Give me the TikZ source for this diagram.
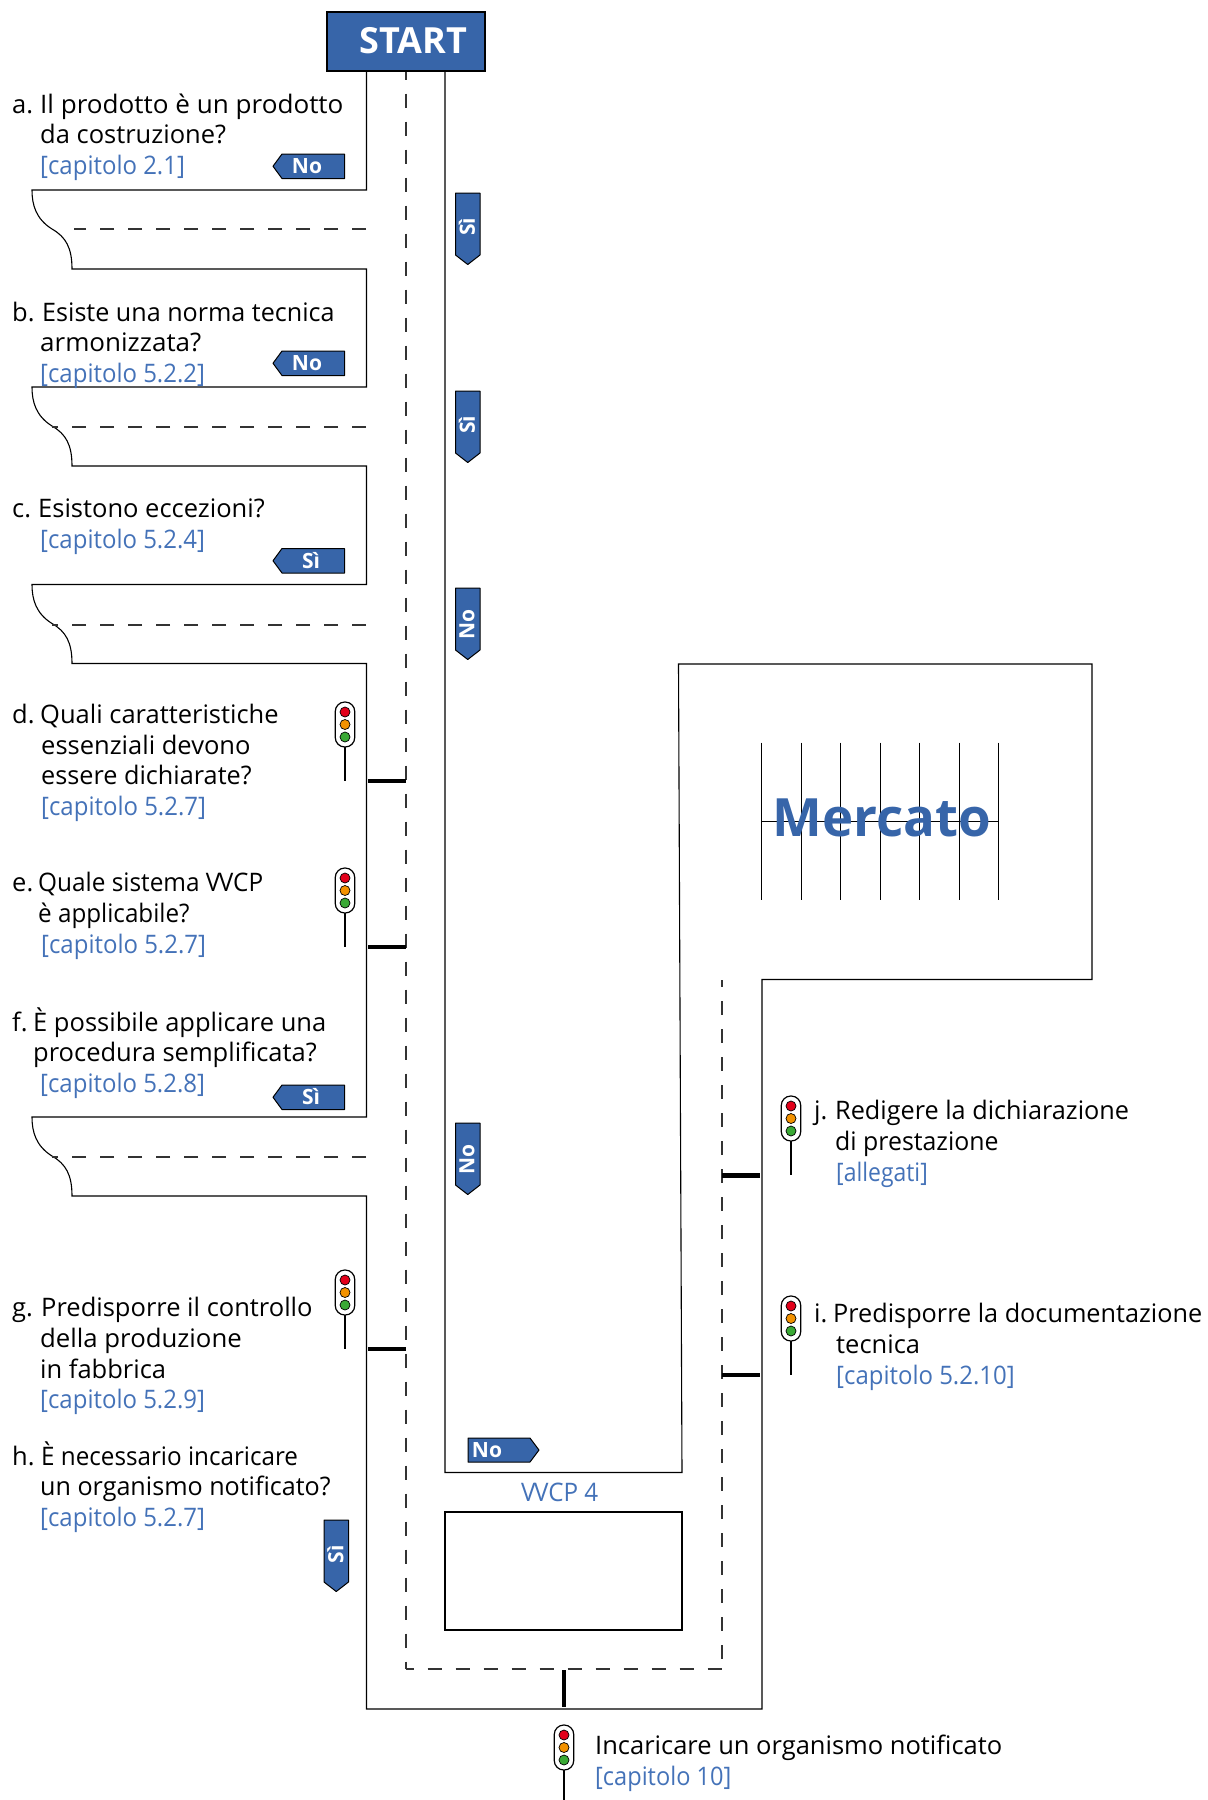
\documentclass[tikz,border=0pt]{standalone}
\usepackage{fontspec}
\setmainfont{Open Sans}
\definecolor{bluefill}{HTML}{3765A9}
\definecolor{linkblue}{HTML}{4472B8}
\definecolor{tred}{HTML}{E2001A}
\definecolor{torange}{HTML}{F39200}
\definecolor{tgreen}{HTML}{3AA935}
\newcommand{\lbfont}{\fontsize{25.5}{30}\selectfont}
\newcommand{\tagfont}{\fontsize{21}{24}\selectfont\bfseries}
\newcommand{\sx}[2]{\scalebox{#1}[1]{#2}}
\newcommand{\vv}{V\kern-1.6pt V}
\tikzset{
 x=1pt,y=-1pt,
 wall/.style={draw=black,line width=1.1pt,line join=miter},
 dashline/.style={draw=black!80,line width=1.1pt,dash pattern=on 14pt off 14pt},
 thick bar/.style={draw=black,line width=4.4pt},
 lbl/.style={anchor=base west,inner sep=0pt,font=\lbfont,text=black},
 lnk/.style={anchor=base west,inner sep=0pt,font=\lbfont,text=linkblue},
 tagbox/.style={fill=bluefill,draw=black,line width=1pt,line join=round},
 tagtext/.style={inner sep=0pt,font=\tagfont,text=white}
}
\newcommand{\tleft}[4]{% name, yTop, text, textx
  \path[tagbox] (273,#2+12.25) -- (282,#2) -- (344.5,#2) -- (344.5,#2+24.5) -- (282,#2+24.5) -- cycle;
  \node[tagtext] (#1) at (#4,#2+12) {#3};
}
\newcommand{\tdown}[5]{% name, xLeft, yTop, text, text offset
  \path[tagbox] (#2,#3) -- (#2+24.5,#3) -- (#2+24.5,#3+62) -- (#2+12.25,#3+71.5) -- (#2,#3+62) -- cycle;
  \node[tagtext,rotate=90] (#1) at (#2+11.5,#3+#5) {#4};
}
\newcommand{\tlamp}[3]{% name, x, yTop of capsule
  \draw[black,line width=2.2pt] (#2,#3+45) -- (#2,#3+79);
  \node[draw=black,fill=white,line width=1.2pt,rounded corners=9.5pt,minimum width=19.5pt,minimum height=45pt,inner sep=0pt] (#1) at (#2,#3+22.5) {};
  \fill[tred,draw=black,line width=.7pt] (#2,#3+10) circle (5pt);
  \fill[torange,draw=black,line width=.7pt] (#2,#3+22.5) circle (5pt);
  \fill[tgreen,draw=black,line width=.7pt] (#2,#3+35) circle (5pt);
}
\newcommand{\lnkt}[1]{\sx{.94}{#1}}
\newcommand{\notch}[1]{%
  (366.5,#1) -- (32,#1) .. controls (32,#1+15) and (36,#1+29) .. (52,#1+39) .. controls (66,#1+47) and (72,#1+58) .. (72,#1+79) -- (366.5,#1+79)
}
\begin{document}
\begin{tikzpicture}
\useasboundingbox (0,0) rectangle (1208,1800);
% outer walls
\draw[wall] (366.5,71) -- \notch{190} -- \notch{387} -- \notch{584.5} -- \notch{1117} -- (366.5,1709) -- (762,1709) -- (762,979.5) -- (1092,979.5) -- (1092,664) -- (678.5,664) -- (682,1472.5) -- (445,1472.5) -- (445,71);
\draw[wall] (445,1512) rectangle (682,1630);
% dashed
\draw[dashline,dash phase=5.3pt] (406,71) -- (406,1669);
\draw[dashline,dash phase=6.3pt] (406,1669) -- (722,1669);
\draw[dashline,dash phase=7pt] (722,980) -- (722,1669);
\draw[dashline] (366,229) -- (74,229);
\draw[dashline] (366,427) -- (52,427);
\draw[dashline] (366,625) -- (52,625);
\draw[dashline] (366,1157) -- (52,1157);
% thick bars
\draw[thick bar] (368,781) -- (405.5,781);
\draw[thick bar] (368,947) -- (405.5,947);
\draw[thick bar] (368,1349) -- (405.5,1349);
\draw[thick bar] (722,1175.5) -- (760,1175.5);
\draw[thick bar] (722,1375) -- (760,1375);
\draw[thick bar] (564,1670) -- (564,1707);
% Start
\node[fill=bluefill,draw=black,line width=1.2pt,minimum width=158pt,minimum height=59pt,inner sep=0pt] (start) at (406,41.5) {};
\node[inner sep=0pt,text=white,font=\fontsize{36}{40}\selectfont\bfseries,anchor=base] (starttext) at (413.5,53) {START};
% Mercato
\foreach \x in {761.7,801.2,840.7,880.2,919.7,959.2,998.7}{\draw[black,line width=1.1pt] (\x,742.7) -- (\x,900);}
\draw[black,line width=1.1pt] (761.7,821.3) -- (998.7,821.3);
\node[inner sep=0pt,text=bluefill,font=\fontsize{52.8}{60}\selectfont\bfseries,anchor=base] (mercato) at (882,836) {Mercato};
% lamps
\tlamp{la}{345}{702}
\tlamp{lb}{345}{868}
\tlamp{lc}{345}{1270}
\tlamp{ld}{791}{1096}
\tlamp{le}{791}{1296}
\draw[black,line width=2.2pt] (564,1770) -- (564,1800);
\tlamp{lf}{564}{1725}
% tags
\tleft{ta}{154}{No}{307}
\tleft{tb}{351}{No}{307}
\tleft{tc}{548.5}{Sì}{311}
\tleft{td}{1085}{Sì}{311}
\tdown{te}{455.5}{193}{Sì}{34}
\tdown{tf}{455.5}{391}{Sì}{34}
\tdown{tg}{455.5}{588}{No}{36.5}
\tdown{th}{455.5}{1123}{No}{36.5}
\tdown{ti}{324}{1520}{Sì}{34}
\path[tagbox] (468,1438) -- (530,1438) -- (539,1450) -- (530,1462) -- (468,1462) -- cycle;
\node[tagtext] (tj) at (487,1450) {No};
% texts
\node[lbl] (a1) at (12,113) {a.};
\node[lbl] (a2) at (40,113) {\sx{1.023}{Il prodotto è un prodotto}};
\node[lbl] (a3) at (40,143) {da costruzione?};
\node[lnk] (a4) at (40,174) {\lnkt{[capitolo 2.1]}};
\node[lbl] (b1) at (12,321) {b.};
\node[lbl] (b2) at (42,321) {\sx{.985}{Esiste una norma tecnica}};
\node[lbl] (b3) at (40,351) {\sx{1.02}{armonizzata?}};
\node[lnk] (b4) at (40,382) {\lnkt{[capitolo 5.2.2]}};
\node[lbl] (c1) at (12,517) {c.};
\node[lbl] (c2) at (38,517) {Esistono eccezioni?};
\node[lnk] (c3) at (40,548) {\lnkt{[capitolo 5.2.4]}};
\node[lbl] (d1) at (12,723) {d.};
\node[lbl] (d2) at (40,723) {Quali caratteristiche};
\node[lbl] (d3) at (41,754) {essenziali devono};
\node[lbl] (d4) at (41,784) {\sx{.99}{essere dichiarate?}};
\node[lnk] (d5) at (41,815) {\lnkt{[capitolo 5.2.7]}};
\node[lbl] (e1) at (12,891) {e.};
\node[lbl] (e2) at (38,891) {\sx{.955}{Quale sistema \vv CP}};
\node[lbl] (e3) at (38,922) {\sx{.95}{è applicabile?}};
\node[lnk] (e4) at (41,953) {\lnkt{[capitolo 5.2.7]}};
\node[lbl] (f1) at (12,1031) {f.};
\node[lbl] (f2) at (33,1031) {È possibile applicare una};
\node[lbl] (f3) at (33,1061) {procedura semplificata?};
\node[lnk] (f4) at (40,1092) {\lnkt{[capitolo 5.2.8]}};
\node[lbl] (g1) at (12,1316) {g.};
\node[lbl] (g2) at (41,1316) {Predisporre il controllo};
\node[lbl] (g3) at (40,1347) {\sx{1.01}{della produzione}};
\node[lbl] (g4) at (40,1378) {in fabbrica};
\node[lnk] (g5) at (40,1408) {\lnkt{[capitolo 5.2.9]}};
\node[lbl] (h1) at (12,1465) {h.};
\node[lbl] (h2) at (41,1465) {\sx{.95}{È necessario incaricare}};
\node[lbl] (h3) at (40,1495) {\sx{.985}{un organismo notificato?}};
\node[lnk] (h4) at (40,1526) {\lnkt{[capitolo 5.2.7]}};
\node[lbl] (j1) at (814,1119) {j.};
\node[lbl] (j2) at (835,1119) {\sx{.99}{Redigere la dichiarazione}};
\node[lbl] (j3) at (835,1150) {\sx{.975}{di prestazione}};
\node[lnk] (j4) at (836,1181) {\sx{.9}{[allegati]}};
\node[lbl] (i1) at (814,1322) {i.};
\node[lbl] (i2) at (833,1322) {\sx{.99}{Predisporre la documentazione}};
\node[lbl] (i3) at (836,1353) {tecnica};
\node[lnk] (i4) at (836,1384) {\lnkt{[capitolo 5.2.10]}};
\node[lbl] (k1) at (595,1754) {Incaricare un organismo notificato};
\node[lnk] (k2) at (595,1785) {\sx{.925}{[capitolo 10]}};
\node[lnk] (vvcp) at (521,1501) {\sx{.95}{\vv CP 4}};
\end{tikzpicture}
\end{document}
